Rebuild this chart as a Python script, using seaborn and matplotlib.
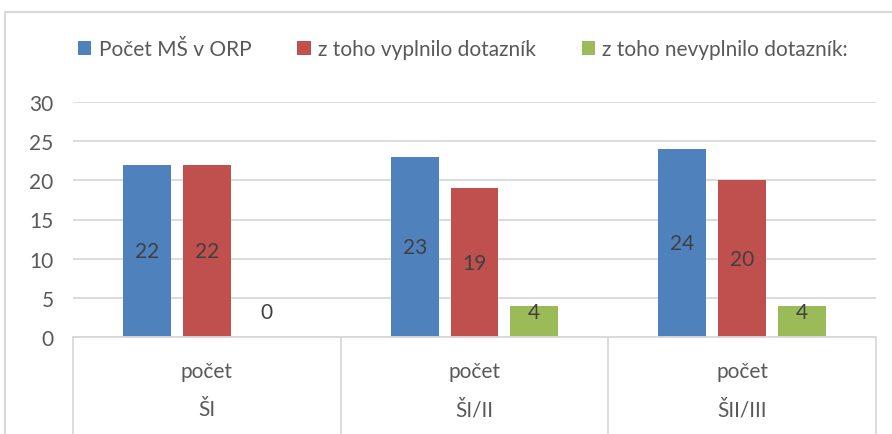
import matplotlib
matplotlib.use("Agg")
import matplotlib.pyplot as plt
import seaborn as sns
import pandas as pd
from matplotlib.patches import Rectangle, Patch

groups = ["ŠI", "ŠI/II", "ŠII/III"]
sublabel = "počet"
series = ["Počet MŠ v ORP", "z toho vyplnilo dotazník", "z toho nevyplnilo dotazník:"]
pocet_ms = [22, 23, 24]
vyplnilo = [22, 19, 20]
nevyplnilo = [0, 4, 4]
yticks = [0, 5, 10, 15, 20, 25, 30]

colors = ["#4F81BD", "#C0504D", "#9BBB59"]
text_col = "#595959"
grid_col = "#D9D9D9"

rows = []
for s, vals in zip(series, [pocet_ms, vyplnilo, nevyplnilo]):
    for g, v in zip(groups, vals):
        rows.append({"group": g, "series": s, "value": v})
df = pd.DataFrame(rows)

sns.set_theme(style="white")
plt.rcParams["font.family"] = ["Lato", "DejaVu Sans"]

FS = 15
W, H = 892, 435
fig = plt.figure(figsize=(W / 100, H / 100), dpi=100)
L, R, B, T = 73, 876, 338, 103
ax = fig.add_axes([L / W, 1 - B / H, (R - L) / W, (B - T) / H])

sns.barplot(data=df, x="group", y="value", hue="series", hue_order=series,
            order=groups, palette=colors, width=0.67, gap=0.2,
            saturation=1, ax=ax, legend=False, errorbar=None,
            edgecolor="none", linewidth=0)

ax.set_xlim(-0.5, 2.5)
ax.set_ylim(0, 30)
ax.set_yticks(yticks)
ax.yaxis.grid(True, color=grid_col, linewidth=1.3)
ax.set_axisbelow(True)
for sp in ["top", "right", "left"]:
    ax.spines[sp].set_visible(False)
ax.spines["bottom"].set_color(grid_col)
ax.spines["bottom"].set_linewidth(1.3)
ax.tick_params(axis="y", length=0, pad=14, labelsize=FS, labelcolor=text_col)
ax.set_xticks([])
ax.set_xlabel("")
ax.set_ylabel("")

# data labels
for cont in ax.containers:
    for p in cont:
        h = p.get_height()
        xc = p.get_x() + p.get_width() / 2
        ax.text(xc, max(h / 2, 3.2), f"{int(round(h))}", ha="center", va="center",
                fontsize=FS, color="#404040")

# multi-level category axis
trans = ax.get_xaxis_transform()
ybot = -(H - B) / (B - T) - 0.05
for xd in [-0.5, 0.5, 1.5, 2.5]:
    ax.plot([xd, xd], [0, ybot], transform=trans, color=grid_col, lw=1.3, clip_on=False)
for i, g in enumerate(groups):
    ax.text(i, -(372 - B) / (B - T), sublabel, transform=trans, ha="center", va="center",
            fontsize=FS, color=text_col)
    ax.text(i, -(410 - B) / (B - T), g, transform=trans, ha="center", va="center",
            fontsize=FS, color=text_col)

# legend
handles = [Patch(facecolor=c, edgecolor="none") for c in colors]
fig.legend(handles, series, loc="center", bbox_to_anchor=(0.519, 1 - 50 / H), ncol=3,
           frameon=False, handlelength=0.65, handleheight=0.65, handletextpad=0.35,
           columnspacing=2.2, fontsize=FS, labelcolor=text_col)

# chart border
fig.patches.append(Rectangle((5 / W, -0.1), 1.2, 1 - 13 / H + 0.1, transform=fig.transFigure,
                             fill=False, edgecolor=grid_col, linewidth=1.5, zorder=-1))

fig.savefig("out.png", dpi=100)
